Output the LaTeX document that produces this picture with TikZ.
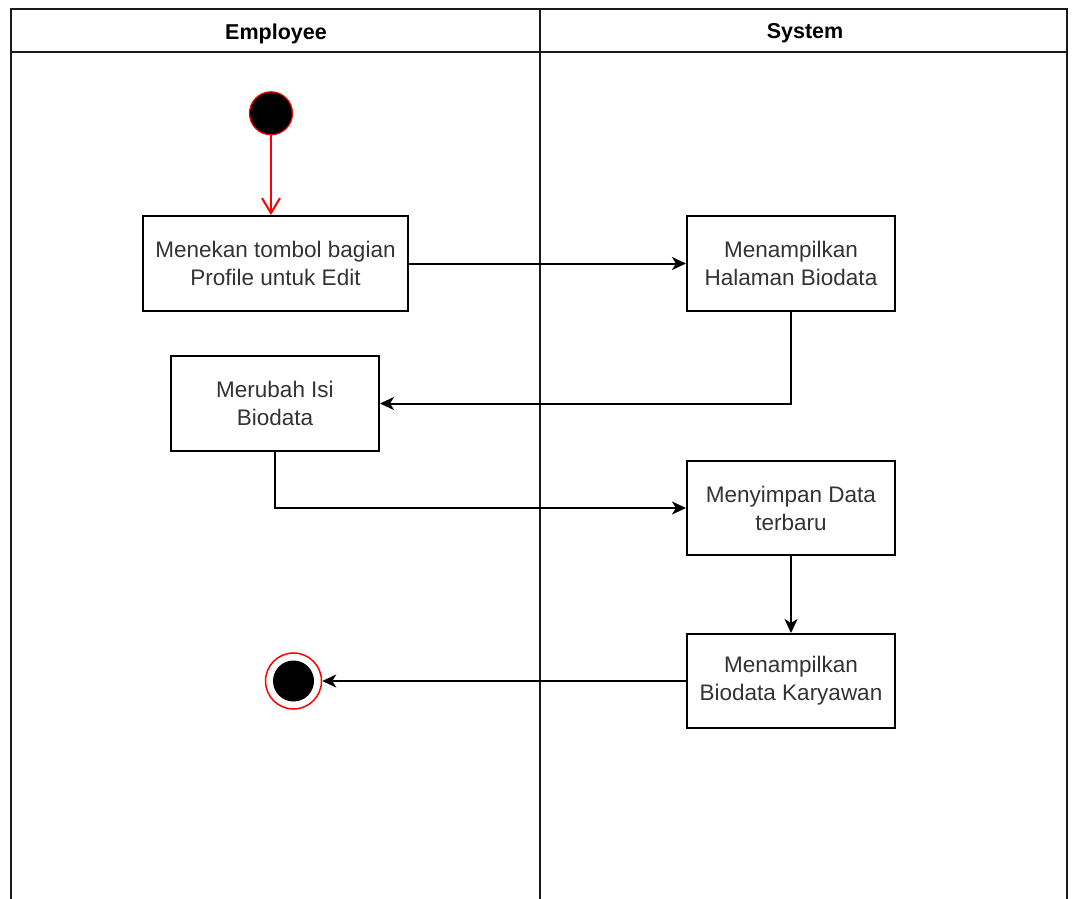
\documentclass[tikz,border=0pt]{standalone}
\usepackage{fontspec}
\setmainfont{Liberation Sans}
\usetikzlibrary{arrows.meta}
\definecolor{txtgray}{HTML}{333333}
\definecolor{lanegray}{HTML}{1A1A1A}
\definecolor{flowred}{HTML}{FF0000}
\tikzset{
  lane/.style={draw=lanegray, line width=2pt},
  actbox/.style={draw=black, line width=2pt, fill=white, rectangle,
    minimum width=208pt, minimum height=95pt, inner sep=0pt,
    align=center, text=txtgray, font=\fontsize{22.5}{28}\selectfont},
  flow/.style={draw=black, line width=2pt, -{Stealth[length=14pt,width=13pt,inset=4pt]}},
  startflow/.style={draw=flowred, line width=2pt, -{Straight Barb[length=15pt,width=18pt]}},
  hdr/.style={font=\bfseries\fontsize{21.5}{26}\selectfont, text=black},
}
\begin{document}
\begin{tikzpicture}[x=1pt,y=-1pt]
\useasboundingbox (0,0) rectangle (1075,898);
\fill[white] (0,0) rectangle (1075,898);

% swimlane frame
\draw[lane] (11,910) -- (11,9) -- (1067,9) -- (1067,910);
\draw[lane] (11,52) -- (1067,52);
\draw[lane] (540,9) -- (540,910);
\node[hdr] (hemp) at (276,33.5) {Employee};
\node[hdr] (hsys) at (805,33.5) {System};

% initial and final states
\node[circle, fill=black, draw=flowred, line width=1.2pt, minimum size=43pt, inner sep=0pt] (start) at (271,113.3) {};
\node[circle, draw=flowred, line width=1.5pt, minimum size=56pt, inner sep=0pt] (end) at (293.5,681) {};
\node[circle, fill=black, minimum size=41pt, inner sep=0pt] (endcore) at (293.5,681) {};

% activities
\node[actbox, minimum width=265pt] (a1) at (275.5,263.5) {Menekan tombol bagian\\Profile untuk Edit};
\node[actbox] (a2) at (791,263.5) {Menampilkan\\Halaman Biodata};
\node[actbox] (a3) at (275,403.5) {Merubah Isi\\Biodata};
\node[actbox, minimum height=94pt] (a4) at (791,508) {Menyimpan Data\\terbaru};
\node[actbox, minimum height=94pt] (a5) at (791,681) {Menampilkan\\Biodata Karyawan};

% control flow
\draw[startflow] (start.south) -- (start.south |- a1.north);
\draw[flow] (a1) -- (a2);
\draw[flow] (a2.south) |- (a3.east);
\draw[flow] (a3.south) |- (a4.west);
\draw[flow] (a4) -- (a5);
\draw[flow] (a5.west) -- (end.east);
\end{tikzpicture}
\end{document}
